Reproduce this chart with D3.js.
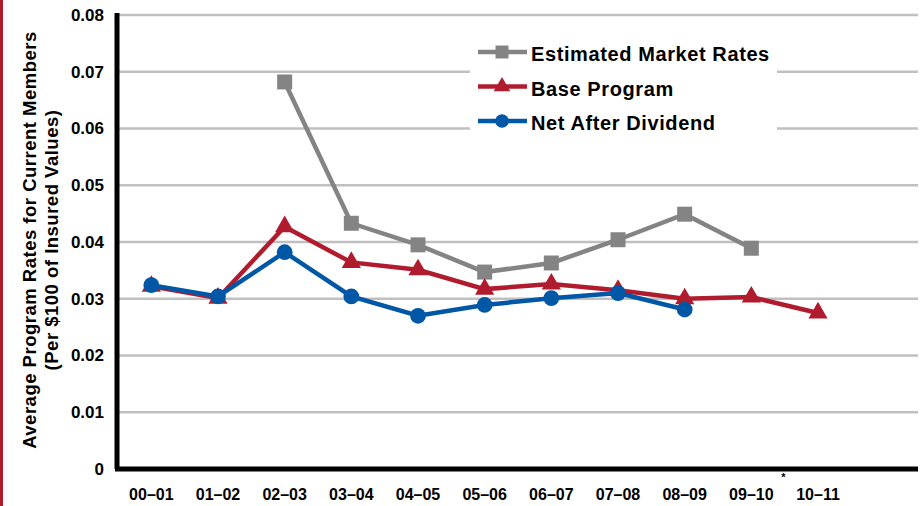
<!DOCTYPE html>
<html>
<head>
<meta charset="utf-8">
<script src="https://cdn.jsdelivr.net/npm/d3@7"></script>
<style>
  body { margin: 0; background: #fff; }
  svg { display: block; font-family: "Liberation Sans", Arial, sans-serif; }
</style>
</head>
<body>
<div class="chart"></div>
<script>
// Average program rates chart
var categories = ["00–01", "01–02", "02–03", "03–04", "04–05", "05–06", "06–07", "07–08", "08–09", "09–10", "10–11"];
var marketRates = [null, null, 0.0682, 0.0433, 0.0395, 0.0347, 0.0363, 0.0404, 0.0449, 0.0389, null];
var baseProgram = [0.0322, 0.0301, 0.0427, 0.0364, 0.0351, 0.0317, 0.0326, 0.0315, 0.0300, 0.0303, 0.0275];
var netDividend = [0.0324, 0.0304, 0.0382, 0.0304, 0.0270, 0.0289, 0.0301, 0.0310, 0.0281, null, null];
var yTicks = [0, 0.01, 0.02, 0.03, 0.04, 0.05, 0.06, 0.07, 0.08];
var seriesNames = ["Estimated Market Rates", "Base Program", "Net After Dividend"];

var svgWidth = 922;
var svgHeight = 506;
var margin = { top: 15, right: 4, bottom: 37, left: 118 };
var width = svgWidth - margin.left - margin.right;
var height = svgHeight - margin.top - margin.bottom;

var svg = d3.select(".chart")
  .append("svg")
  .attr("width", svgWidth)
  .attr("height", svgHeight);

// red strip on the left edge
svg.append("rect")
  .attr("x", 0).attr("y", 0)
  .attr("width", 3).attr("height", svgHeight)
  .attr("fill", "#b01c2e");

var chartGroup = svg.append("g")
  .attr("transform", `translate(${margin.left}, ${margin.top})`);

// 12 slots, last one left empty
var xScale = d3.scaleBand()
  .domain(categories)
  .range([0, width * 11 / 12]);

var yScale = d3.scaleLinear()
  .domain([0, 0.08])
  .range([height, 0]);

// gridlines
chartGroup.append("g")
  .selectAll("line")
  .data(yTicks.slice(1))
  .enter()
  .append("line")
  .attr("x1", 0)
  .attr("x2", width)
  .attr("y1", d => yScale(d))
  .attr("y2", d => yScale(d))
  .attr("stroke", "#c0c0c0")
  .attr("stroke-width", 2.5);

// y axis
var leftAxis = d3.axisLeft(yScale)
  .tickValues(yTicks)
  .tickSize(0)
  .tickPadding(14)
  .tickFormat(d => d === 0 ? "0" : d3.format(".2f")(d));

var yAxis = chartGroup.append("g").call(leftAxis);
yAxis.select(".domain").remove();
yAxis.selectAll("text")
  .attr("font-size", "17px")
  .attr("font-weight", "bold")
  .attr("fill", "#000");

// x axis labels
var bottomAxis = d3.axisBottom(xScale).tickSize(0).tickPadding(20);
var xAxis = chartGroup.append("g")
  .attr("transform", `translate(0, ${height})`)
  .call(bottomAxis);
xAxis.select(".domain").remove();
xAxis.selectAll("text")
  .attr("font-size", "16px")
  .attr("font-weight", "bold")
  .attr("fill", "#000");

// axis lines
chartGroup.append("line")
  .attr("x1", -3).attr("x2", width)
  .attr("y1", height).attr("y2", height)
  .attr("stroke", "#000").attr("stroke-width", 5);
chartGroup.append("line")
  .attr("x1", -1).attr("x2", -1)
  .attr("y1", -2).attr("y2", height)
  .attr("stroke", "#000").attr("stroke-width", 5);

// small asterisk below the axis
chartGroup.append("text")
  .attr("x", xScale("09–10") + xScale.bandwidth() / 2 + 32)
  .attr("y", height + 12)
  .attr("text-anchor", "middle")
  .attr("font-size", "11px")
  .attr("font-weight", "bold")
  .text("*");

// y axis title
var yTitle = svg.append("text")
  .attr("transform", "translate(36, 240) rotate(-90)")
  .attr("text-anchor", "middle")
  .attr("font-size", "18.5px")
  .attr("letter-spacing", "0.5px")
  .attr("font-weight", "bold")
  .attr("fill", "#000");
yTitle.append("tspan").attr("x", 0).attr("dy", 0).text("Average Program Rates for Current Members");
yTitle.append("tspan").attr("x", 0).attr("dy", 22).text("(Per $100 of Insured Values)");

var series = [
  { name: seriesNames[0], values: marketRates, color: "#848484", shape: d3.symbolSquare, size: 225 },
  { name: seriesNames[1], values: baseProgram, color: "#b01c2e", shape: d3.symbolTriangle, size: 160 },
  { name: seriesNames[2], values: netDividend, color: "#0057a6", shape: d3.symbolCircle, size: 195 }
];

var cx = d => xScale(d.cat) + xScale.bandwidth() / 2;

var line = d3.line()
  .defined(d => d.v !== null)
  .x(cx)
  .y(d => yScale(d.v));

series.forEach(function (s) {
  var pts = categories.map((c, i) => ({ cat: c, v: s.values[i] }));
  chartGroup.append("path")
    .datum(pts)
    .attr("d", line)
    .attr("fill", "none")
    .attr("stroke", s.color)
    .attr("stroke-width", 4.5);
  chartGroup.selectAll(null)
    .data(pts.filter(d => d.v !== null))
    .enter()
    .append("path")
    .attr("d", d3.symbol().type(s.shape).size(s.size))
    .attr("transform", d => `translate(${cx(d)}, ${yScale(d.v)})`)
    .attr("fill", s.color);
});

// legend
var legend = svg.append("g");
legend.append("rect")
  .attr("x", 470).attr("y", 30)
  .attr("width", 307).attr("height", 110)
  .attr("fill", "#fff");

series.forEach(function (s, i) {
  var y = 52 + i * 34.5;
  legend.append("line")
    .attr("x1", 478).attr("x2", 527)
    .attr("y1", y).attr("y2", y)
    .attr("stroke", s.color).attr("stroke-width", 4.5);
  legend.append("path")
    .attr("d", d3.symbol().type(s.shape).size(s.size * 0.75))
    .attr("transform", `translate(502, ${y})`)
    .attr("fill", s.color);
  legend.append("text")
    .attr("x", 531).attr("y", y + 2)
    .attr("dy", "0.35em")
    .attr("font-size", "20px")
    .attr("letter-spacing", "0.6px")
    .attr("font-weight", "bold")
    .attr("fill", "#000")
    .text(s.name);
});
</script>
</body>
</html>
